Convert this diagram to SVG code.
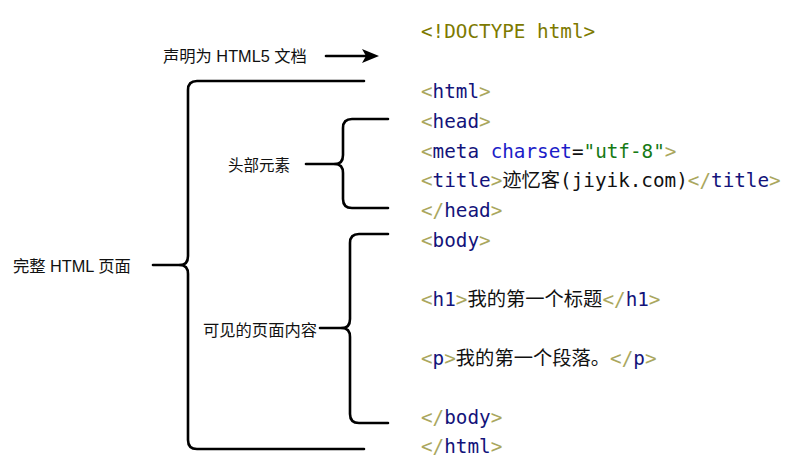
<svg xmlns="http://www.w3.org/2000/svg" width="800" height="461" viewBox="0 0 800 461">
<style>
.lbl{font-family:"Liberation Sans","Noto Sans CJK SC",sans-serif;font-size:16.3px;fill:#111}
.code{font-family:"DejaVu Sans Mono","Noto Sans CJK SC",monospace;font-size:19.3px;fill:#111}
.b{fill:#aaa75e}
.t{fill:#13137a}
.d{fill:#7d7a00}
.a{fill:#1c1cc8}
.s{fill:#157a15}
.br{fill:none;stroke:#000;stroke-width:2.6;stroke-linecap:round;stroke-linejoin:round}
</style>
<rect width="800" height="461" fill="#fff"/>
<g id="connectors">
<line class="br" x1="326" y1="56" x2="368" y2="56"/>
<polygon points="379,56 362,49 366,56 362,63" fill="#000"/>
<path class="br" d="M364,81 H197 Q188,81 188,90 V256 Q188,265 180,265 Q188,265 188,274 V440 Q188,449 197,449 H364"/>
<line class="br" x1="153" y1="265" x2="180" y2="265"/>
<path class="br" d="M388,119 H352 Q343,119 343,128 V155 Q343,164 335,164 Q343,164 343,173 V199 Q343,208 352,208 H388"/>
<line class="br" x1="306" y1="164" x2="335" y2="164"/>
<path class="br" d="M388,234 H359 Q350,234 350,243 V319 Q350,328 342,328 Q350,328 350,337 V414 Q350,423 359,423 H388"/>
<line class="br" x1="320" y1="328" x2="342" y2="328"/>
</g>
<g id="label-doctype"><text class="lbl" x="163" y="62">声明为 HTML5 文档</text></g>
<g id="label-page"><text class="lbl" x="13" y="272">完整 HTML 页面</text></g>
<g id="label-head"><text class="lbl" x="228" y="171" style="font-size:15.5px">头部元素</text></g>
<g id="label-body"><text class="lbl" x="203" y="336">可见的页面内容</text></g>
<g id="code">
<text class="code" x="421" y="38"><tspan class="d">&lt;!DOCTYPE html&gt;</tspan></text>
<text class="code" x="421" y="98"><tspan class="b">&lt;</tspan><tspan class="t">html</tspan><tspan class="b">&gt;</tspan></text>
<text class="code" x="421" y="128"><tspan class="b">&lt;</tspan><tspan class="t">head</tspan><tspan class="b">&gt;</tspan></text>
<text class="code" x="421" y="158" xml:space="preserve"><tspan class="b">&lt;</tspan><tspan class="t">meta</tspan><tspan> </tspan><tspan class="a">charset</tspan><tspan>=</tspan><tspan class="s">"utf-8"</tspan><tspan class="b">&gt;</tspan></text>
<text class="code" x="421" y="187"><tspan class="b">&lt;</tspan><tspan class="t">title</tspan><tspan class="b">&gt;</tspan><tspan>迹忆客(jiyik.com)</tspan><tspan class="b">&lt;/</tspan><tspan class="t">title</tspan><tspan class="b">&gt;</tspan></text>
<text class="code" x="421" y="217"><tspan class="b">&lt;/</tspan><tspan class="t">head</tspan><tspan class="b">&gt;</tspan></text>
<text class="code" x="421" y="247"><tspan class="b">&lt;</tspan><tspan class="t">body</tspan><tspan class="b">&gt;</tspan></text>
<text class="code" x="421" y="306"><tspan class="b">&lt;</tspan><tspan class="t">h1</tspan><tspan class="b">&gt;</tspan><tspan>我的第一个标题</tspan><tspan class="b">&lt;/</tspan><tspan class="t">h1</tspan><tspan class="b">&gt;</tspan></text>
<text class="code" x="421" y="365"><tspan class="b">&lt;</tspan><tspan class="t">p</tspan><tspan class="b">&gt;</tspan><tspan>我的第一个段落。</tspan><tspan class="b">&lt;/</tspan><tspan class="t">p</tspan><tspan class="b">&gt;</tspan></text>
<text class="code" x="421" y="424"><tspan class="b">&lt;/</tspan><tspan class="t">body</tspan><tspan class="b">&gt;</tspan></text>
<text class="code" x="421" y="453"><tspan class="b">&lt;/</tspan><tspan class="t">html</tspan><tspan class="b">&gt;</tspan></text>
</g>
</svg>
